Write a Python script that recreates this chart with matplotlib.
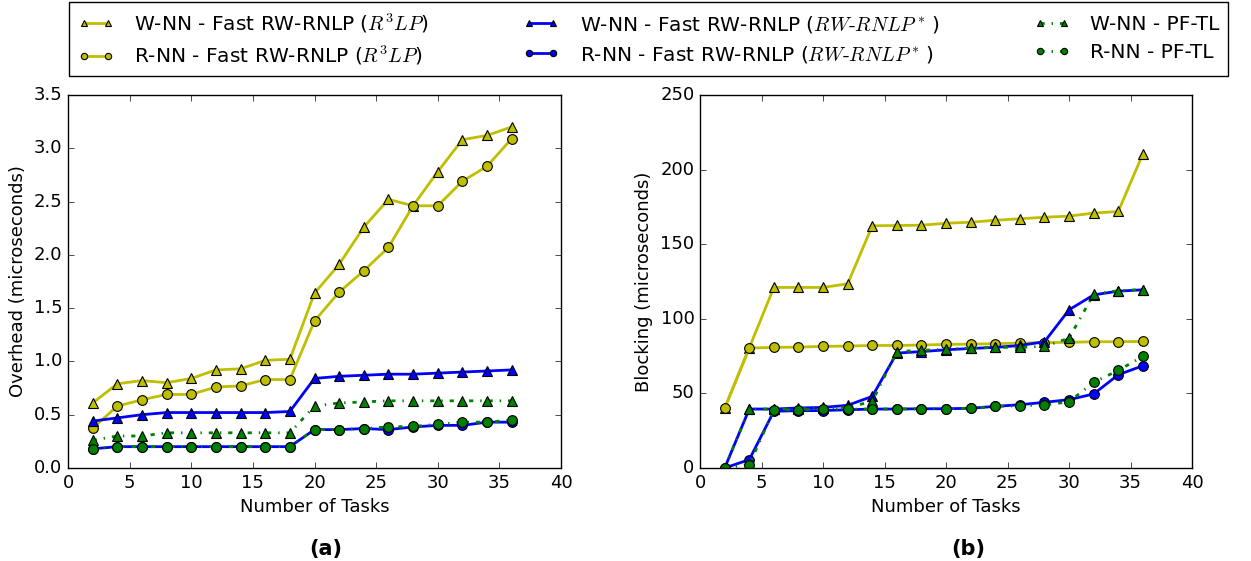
import matplotlib
matplotlib.use("Agg")
import matplotlib.pyplot as plt

# number of tasks (x axis for both panels)
tasks = [2, 4, 6, 8, 10, 12, 14, 16, 18, 20, 22, 24, 26, 28, 30, 32, 34, 36]

# (a) overhead in microseconds
oh_w_r3lp = [0.61, 0.79, 0.82, 0.80, 0.84, 0.92, 0.93, 1.01, 1.02, 1.64, 1.91, 2.26,
             2.52, 2.46, 2.78, 3.08, 3.12, 3.20]
oh_r_r3lp = [0.375, 0.58, 0.64, 0.69, 0.69, 0.76, 0.77, 0.83, 0.83, 1.38, 1.65, 1.85,
             2.07, 2.46, 2.46, 2.69, 2.83, 3.09]
oh_w_rw = [0.44, 0.47, 0.50, 0.52, 0.52, 0.52, 0.52, 0.52, 0.53, 0.84, 0.86, 0.87,
           0.88, 0.88, 0.89, 0.90, 0.91, 0.92]
oh_r_rw = [0.18, 0.20, 0.20, 0.20, 0.20, 0.20, 0.20, 0.20, 0.20, 0.36, 0.36, 0.37,
           0.36, 0.385, 0.40, 0.40, 0.43, 0.43]
oh_w_pftl = [0.26, 0.30, 0.30, 0.33, 0.33, 0.33, 0.33, 0.33, 0.33, 0.58, 0.61, 0.62,
             0.63, 0.63, 0.63, 0.63, 0.63, 0.63]
oh_r_pftl = [0.18, 0.20, 0.20, 0.20, 0.20, 0.20, 0.20, 0.20, 0.20, 0.36, 0.36, 0.37,
             0.385, 0.39, 0.41, 0.43, 0.43, 0.45]

# (b) blocking in microseconds
bl_w_r3lp = [40, 80.5, 121, 121, 121, 123.4, 162.3, 162.5, 162.7, 164, 164.7, 166,
             167, 168, 168.8, 170.8, 171.9, 210.5]
bl_r_r3lp = [40, 80.4, 80.8, 81, 81.5, 81.7, 82.1, 82.1, 82.4, 82.8, 83, 83.3,
             83.7, 84, 84.2, 84.6, 84.6, 84.8]
bl_w_rw = [0, 39.5, 39.5, 40.2, 40.6, 42, 48, 77, 78, 79.2, 80.1, 80.8,
           82.1, 84.6, 106, 116, 118.5, 119.4]
bl_r_rw = [0, 5.6, 38, 38.4, 38.5, 39, 39.5, 39.5, 39.7, 39.7, 40, 41.3,
           42.4, 44, 45.8, 49.6, 62.5, 68.5]
bl_w_pftl = [0, 39.5, 39.5, 39.5, 40.2, 40.6, 44.6, 78, 78.8, 79.7, 80.4, 80.8,
             80.8, 81.5, 87, 116.5, 118.8, 119.6]
bl_r_pftl = [0, 2.2, 39, 39, 39.3, 39.5, 39.5, 39.5, 39.7, 39.7, 40, 41.3,
             41.7, 42.2, 44.4, 57.4, 65.4, 74.8]

labels = [
    r"W-NN - Fast RW-RNLP ($R^3LP$)",
    r"R-NN - Fast RW-RNLP ($R^3LP$)",
    r"W-NN - Fast RW-RNLP ($RW\text{-}RNLP^*\,$)",
    r"R-NN - Fast RW-RNLP ($RW\text{-}RNLP^*\,$)",
    "W-NN - PF-TL",
    "R-NN - PF-TL",
]
styles = [
    dict(color="y", marker="^", linestyle="-"),
    dict(color="y", marker="o", linestyle="-"),
    dict(color="b", marker="^", linestyle="-"),
    dict(color="b", marker="o", linestyle="-"),
    dict(color="g", marker="^", linestyle="-."),
    dict(color="g", marker="o", linestyle="-."),
]

plt.style.use("classic")
plt.rcParams["mathtext.fontset"] = "cm"
plt.rcParams["font.size"] = 13

fig = plt.figure(figsize=(12.51, 5.61), dpi=100, facecolor="white")
ax1 = fig.add_axes([0.0544, 0.1658, 0.394, 0.665])
ax2 = fig.add_axes([0.5596, 0.1658, 0.3933, 0.665])

series_a = [oh_w_r3lp, oh_r_r3lp, oh_w_rw, oh_r_rw, oh_w_pftl, oh_r_pftl]
series_b = [bl_w_r3lp, bl_r_r3lp, bl_w_rw, bl_r_rw, bl_w_pftl, bl_r_pftl]

handles = []
for ys, st, lab in zip(series_a, styles, labels):
    h, = ax1.plot(tasks, ys, label=lab, linewidth=2, markersize=7,
                  markeredgecolor="black", markeredgewidth=0.8, **st)
    handles.append(h)
for ys, st in zip(series_b, styles):
    ax2.plot(tasks, ys, linewidth=2, markersize=7,
             markeredgecolor="black", markeredgewidth=0.8, **st)

ax1.set_xlim(0, 40)
ax1.set_ylim(0, 3.5)
ax1.set_xticks(range(0, 41, 5))
ax1.set_yticks([0.0, 0.5, 1.0, 1.5, 2.0, 2.5, 3.0, 3.5])
ax1.set_xlabel("Number of Tasks")
ax1.set_ylabel("Overhead (microseconds)")

ax2.set_xlim(0, 40)
ax2.set_ylim(0, 250)
ax2.set_xticks(range(0, 41, 5))
ax2.set_yticks(range(0, 251, 50))
ax2.set_xlabel("Number of Tasks")
ax2.set_ylabel("Blocking (microseconds)")

fig.text(0.26, 0.021, "(a)", fontsize=15, fontweight="bold", ha="center", va="center")
fig.text(0.774, 0.021, "(b)", fontsize=15, fontweight="bold", ha="center", va="center")

fig.legend(handles=handles, loc="upper left", bbox_to_anchor=(0.055, 0.996, 0.927, 0.0),
           mode="expand", ncol=3, numpoints=2, fontsize=14.5, handlelength=1.8,
           handletextpad=1.0, markerscale=0.65, labelspacing=0.45, borderpad=0.45,
           borderaxespad=0, frameon=True, fancybox=False, edgecolor="black")

fig.savefig("out.png", dpi=100, facecolor="white")
